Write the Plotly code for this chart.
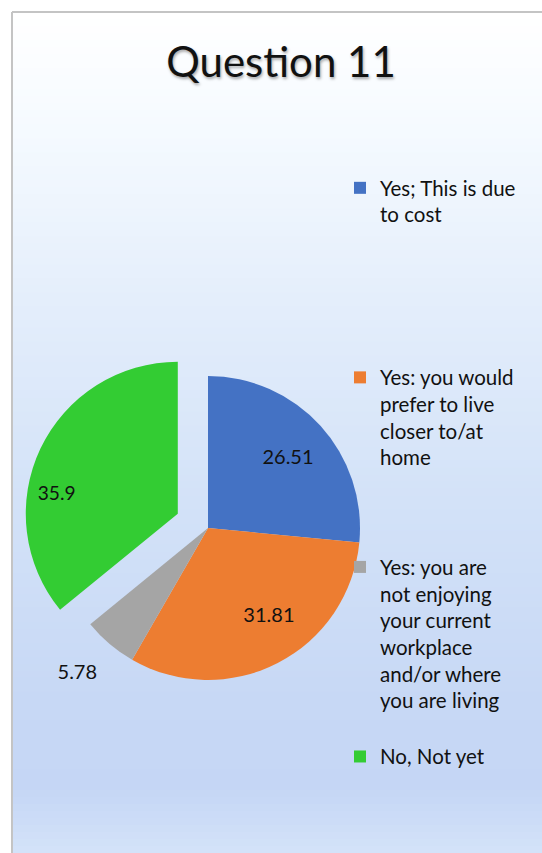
import plotly.graph_objects as go

W, H = 542, 853

labels = [
    "Yes; This is due<br>to cost",
    "Yes: you would<br>prefer to live<br>closer to/at<br>home",
    "Yes: you are<br>not enjoying<br>your current<br>workplace<br>and/or where<br>you are living",
    "No, Not yet",
]
values = [26.51, 31.81, 5.78, 35.9]
colors = ["#4472C4", "#ED7D31", "#A5A5A5", "#33CC33"]
pulls = [0, 0, 0, 0.22]
text_pos = ["inside", "inside", "outside", "inside"]

# pad legend entries with blank lines so items spread down like the Excel legend
pad = [5, 3, 1, 0]
legend_names = [lab + "<br>\u00a0" * p for lab, p in zip(labels, pad)]

# nudge the value labels toward where Excel puts them (padding only, value comes from data)
NB = "\u00a0"
templates = [
    NB * 6 + "%{value}<br>" + NB,
    NB + "<br>" + NB * 9 + "%{value}",
    NB + "<br>" + NB * 3 + "%{value}",
    NB + "<br>%{value}" + NB * 20,
]

fig = go.Figure()

# background gradient (chart area starts at x=12, y=12)
stops = [(12, (255, 255, 255)), (130, (245, 250, 255)), (300, (228, 238, 251)),
         (500, (211, 226, 248)), (700, (199, 216, 245)), (790, (197, 214, 245)),
         (853, (212, 227, 249))]


def col_at(y):
    for (y0, c0), (y1, c1) in zip(stops[:-1], stops[1:]):
        if y0 <= y <= y1:
            t = (y - y0) / (y1 - y0)
            return "rgb(%d,%d,%d)" % tuple(round(a + (b - a) * t) for a, b in zip(c0, c1))
    return "rgb(%d,%d,%d)" % stops[-1][1]


n = 120
for i in range(n):
    ya = 12 + (H - 12) * i / n
    yb = 12 + (H - 12) * (i + 1) / n
    fig.add_shape(type="rect", xref="paper", yref="paper",
                  x0=12 / W, x1=1, y0=1 - yb / H - 0.001, y1=1 - ya / H,
                  fillcolor=col_at((ya + yb) / 2), line=dict(width=0), layer="below")

# chart border (left and top visible)
fig.add_shape(type="line", xref="paper", yref="paper", x0=12 / W, x1=12 / W, y0=0, y1=1 - 12 / H,
              line=dict(color="#c4c4c4", width=2), layer="below")
fig.add_shape(type="line", xref="paper", yref="paper", x0=12 / W, x1=1, y0=1 - 12 / H, y1=1 - 12 / H,
              line=dict(color="#c4c4c4", width=2), layer="below")

cx, cy, r = 208, 528, 152
half = r * (1 + max(pulls))
fig.add_trace(go.Pie(
    labels=legend_names,
    values=values,
    sort=False,
    direction="clockwise",
    rotation=0,
    pull=pulls,
    marker=dict(colors=colors, line=dict(width=0)),
    texttemplate=templates,
    textposition=text_pos,
    insidetextorientation="horizontal",
    textfont=dict(family="Lato", size=20, color="#111111"),
    domain=dict(x=[(cx - half) / W, (cx + half) / W],
                y=[1 - (cy + half) / H, 1 - (cy - half) / H]),
    hoverinfo="label+value",
))

fig.update_layout(
    width=W, height=H,
    margin=dict(l=0, r=0, t=0, b=0, autoexpand=False),
    paper_bgcolor="white",
    title=dict(text="Question 11", x=281 / W, xanchor="center", y=1 - 62 / H, yanchor="middle",
               font=dict(family="Lato", size=42, color="#111111",
                         shadow="1px 2px 3px rgba(0,0,0,0.35)")),
    showlegend=True,
    legend=dict(x=340 / W, xanchor="left", y=1 - 168 / H, yanchor="top",
                valign="top", itemwidth=30, bgcolor="rgba(0,0,0,0)",
                font=dict(family="Lato", size=20.5, color="#111111")),
)

fig.write_html("out.html", config={"displayModeBar": False},
               post_script="document.body.style.margin='0';document.body.style.overflow='hidden';")
